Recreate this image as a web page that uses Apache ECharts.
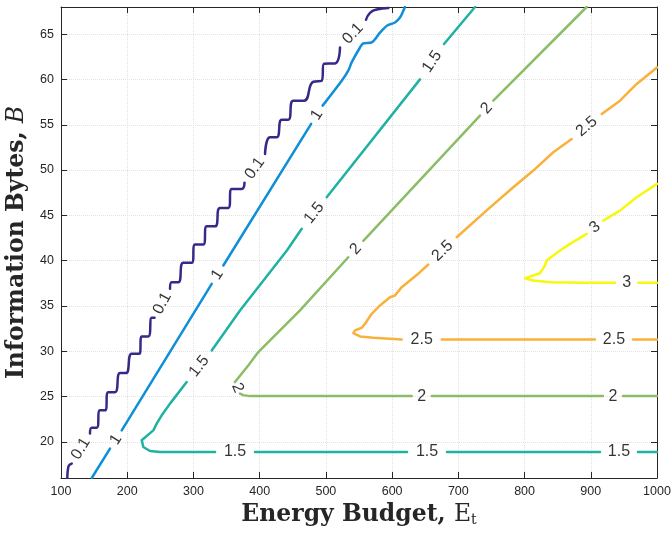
<!DOCTYPE html>
<html><head><meta charset="utf-8">
<script src="https://cdn.jsdelivr.net/npm/echarts@6/dist/echarts.min.js"></script>
<style>html,body{margin:0;padding:0;background:#fff}#c{width:671px;height:533px}</style>
</head><body><div id="c"></div>
<script>
// ---- data ----
const xTicks = [100, 200, 300, 400, 500, 600, 700, 800, 900, 1000];
const yTicks = [20, 25, 30, 35, 40, 45, 50, 55, 60, 65];
const levelText = ['0.1', '1', '1.5', '2', '2.5', '3'];

// each contour: list of segments (gaps are where the inline labels sit)
const contour_0_1 = [
  [[109.5,16.0],[111.0,17.21],[116.2,17.59]],
  [[143.8,20.90],[146.4,21.56],[153.9,21.56],[158.9,23.47],[166.4,23.47],[171.4,25.48],[181.5,25.48],[189.1,27.58],[198.2,27.58],[206.8,29.72],[218.2,29.72],[221.9,31.63],[231.8,31.63],[237.0,33.69],[241.2,33.69]],
  [[264.6,36.89],[267.2,37.62],[277.1,37.62],[284.7,39.76],[297.4,39.76],[302.4,41.78],[314.9,41.78],[320.0,43.79],[332.6,43.79],[340.1,45.82],[352.6,45.82],[357.8,47.92],[372.9,47.92],[377.1,48.61]],
  [[408.1,51.78],[415.7,53.61],[425.7,53.61],[433.3,55.56],[443.2,55.56],[450.8,57.66],[466.9,57.66],[481.0,59.75],[493.7,59.86],[497.1,61.74],[513.8,61.77],[521.3,63.53]],
  [[560.6,66.59],[566.6,67.36],[576.7,67.73],[594.2,67.9]]
];
const contour_1 = [
  [[146.4,16.0],[174.0,19.24]],
  [[191.7,21.26],[327.6,37.44]],
  [[345.1,39.46],[477.7,55.09]],
  [[495.0,57.11],[523.9,59.86],[533.8,60.97],[538.9,61.88],[551.5,63.53],[556.5,63.98],[569.2,64.09],[581.9,65.19],[592.1,65.93],[604.3,66.29],[611.9,66.84],[616.9,67.58],[619.4,68.0]]
];
const contour_1_5 = [
  [[1000,18.87],[971.3,18.87]],
  [[913.9,18.87],[682.9,18.87]],
  [[622.5,18.87],[393.0,18.87]],
  [[332.6,18.87],[249.5,18.87],[234.4,18.98],[224.3,19.42],[221.9,20.16],[239.4,21.26],[244.5,22.0],[252.1,22.92],[264.6,24.21],[272.2,24.93],[289.8,26.59]],
  [[327.6,30.08],[370.3,34.50],[440.8,41.09],[463.5,43.51]],
  [[501.2,46.99],[642.1,60.01]],
  [[678.4,63.91],[725.2,68.0]]
];
const contour_2 = [
  [[1000,25.04],[948.7,25.04]],
  [[918.4,25.04],[659.8,25.04]],
  [[629.6,25.04],[385.4,25.04],[375.0,25.15],[370.3,25.31]],
  [[362.7,26.59],[382.8,28.43],[397.9,29.90],[415.6,31.19],[460.9,34.50],[533.8,40.37]],
  [[556.5,42.19],[732.7,56.0]],
  [[752.8,57.66],[893.8,68.0]]
];
const contour_2_5 = [
  [[1000,31.30],[963.8,31.30]],
  [[906.3,31.30],[674.9,31.30]],
  [[614.5,31.30],[571.6,31.49],[551.5,31.63],[541.4,31.99],[544.0,32.29],[554.1,32.59],[559.1,33.03],[569.2,34.13],[581.7,35.05],[596.8,35.96],[604.3,36.15],[614.5,37.07],[627.0,37.80],[642.1,38.72],[654.6,39.57]],
  [[697.5,42.58],[742.8,45.55],[783.0,48.10],[813.2,49.94],[843.4,51.96],[871.2,53.43]],
  [[916.5,56.19],[944.1,57.66],[969.3,59.50],[1000,61.33]]
];
const contour_3 = [
  [[1000,37.55],[971.8,37.55]],
  [[936.6,37.55],[888.7,37.55],[838.4,37.62],[813.2,37.80],[800.7,38.06],[823.3,38.61],[830.8,39.46],[833.4,40.01],[843.4,40.56],[853.5,41.11],[868.6,41.85],[893.8,42.95]],
  [[918.9,44.42],[944.1,45.52],[969.3,46.99],[1000,48.47]]
];

const contours = [contour_0_1, contour_1, contour_1_5, contour_2, contour_2_5, contour_3];
const colors = ['#352a87', '#0f8fd8', '#1fb2a3', '#8cbd66', '#f9b13b', '#f7f70f'];
const smoothing = [0.5, 0.3, 0, 0, 0, 0];

// ---- chart ----
const chart = echarts.init(document.getElementById('c'), null, {renderer: 'canvas'});
const AX = '#262626';
const tickFont = {fontFamily: 'Liberation Sans', fontSize: 12.5, color: AX};

const lineSeries = contours.map((segs, k) => {
  const data = [];
  segs.forEach((s, i) => { if (i) data.push(['-', '-']); s.forEach(p => data.push(p)); });
  return {
    type: 'line', xAxisIndex: 0, yAxisIndex: 0, data: data, showSymbol: false, symbol: 'none',
    smooth: smoothing[k], connectNulls: false,
    lineStyle: {color: colors[k], width: 2.5, join: 'round', cap: 'round'},
    z: 3, silent: true, animation: false
  };
});

const option = {
  animation: false,
  backgroundColor: '#fff',
  grid: {left: 61, right: 14, top: 7, bottom: 55, containLabel: false, outerBoundsMode: 'none'},
  xAxis: [{
    type: 'value', min: 100, max: 1000, interval: 100, position: 'bottom',
    name: '{b|Energy Budget, }{r|E}{s|t}', nameLocation: 'middle', nameGap: 24,
    nameTextStyle: {color: AX, rich: {
      b: {fontFamily: 'DejaVu Serif', fontWeight: 'bold', fontSize: 23.5, color: AX},
      r: {fontFamily: 'DejaVu Serif', fontSize: 23.5, color: AX},
      s: {fontFamily: 'DejaVu Serif', fontSize: 14, color: AX, padding: [10, 0, 0, 0]}
    }},
    axisLine: {onZero: false, lineStyle: {color: AX, width: 1}},
    axisTick: {inside: true, length: 6, lineStyle: {color: AX}},
    axisLabel: Object.assign({margin: 7, formatter: v => String(v)}, tickFont),
    splitLine: {show: true, lineStyle: {color: '#e2e2e2', type: 'dotted', width: 1}}
  }, {
    type: 'value', min: 100, max: 1000, interval: 100, position: 'top',
    axisLine: {onZero: false, lineStyle: {color: AX, width: 1}},
    axisTick: {inside: true, length: 6, lineStyle: {color: AX}},
    axisLabel: {show: false}, splitLine: {show: false}
  }],
  yAxis: [{
    type: 'value', min: 16, max: 68, position: 'left',
    name: '{b|Information Bytes, }{i|B}', nameLocation: 'middle', nameGap: 31, nameRotate: 90,
    nameTextStyle: {color: AX, rich: {
      b: {fontFamily: 'DejaVu Serif', fontWeight: 'bold', fontSize: 23.5, color: AX},
      i: {fontFamily: 'DejaVu Serif', fontStyle: 'italic', fontSize: 23.5, color: AX}
    }},
    axisLine: {onZero: false, lineStyle: {color: AX, width: 1}},
    axisTick: {inside: true, length: 6, lineStyle: {color: AX}, customValues: yTicks},
    axisLabel: Object.assign({margin: 7, customValues: yTicks}, tickFont),
    splitLine: {show: true, lineStyle: {color: '#e2e2e2', type: 'dotted', width: 1}}
  }, {
    type: 'value', min: 16, max: 68, position: 'right',
    axisLine: {onZero: false, lineStyle: {color: AX, width: 1}},
    axisTick: {inside: true, length: 6, lineStyle: {color: AX}, customValues: yTicks},
    axisLabel: {show: false, customValues: yTicks}, splitLine: {show: false}
  }],
  series: lineSeries
};
chart.setOption(option);

// inline contour labels placed in the gaps, rotated along the contour
const labelData = [];
contours.forEach((segs, k) => {
  for (let i = 0; i < segs.length - 1; i++) {
    const a = segs[i][segs[i].length - 1], b = segs[i + 1][0];
    const pa = chart.convertToPixel({xAxisIndex: 0, yAxisIndex: 0}, a);
    const pb = chart.convertToPixel({xAxisIndex: 0, yAxisIndex: 0}, b);
    let ang = Math.atan2(-(pb[1] - pa[1]), pb[0] - pa[0]) * 180 / Math.PI;
    if (ang > 90) ang -= 180;
    if (ang <= -90) ang += 180;
    labelData.push({value: [(a[0] + b[0]) / 2, (a[1] + b[1]) / 2], label: {formatter: levelText[k], rotate: ang}});
  }
});
chart.setOption({series: lineSeries.concat([{
  type: 'scatter', xAxisIndex: 0, yAxisIndex: 0, data: labelData, symbolSize: 1,
  itemStyle: {color: 'rgba(0,0,0,0)'}, silent: true, z: 5,
  label: {show: true, position: 'inside', fontFamily: 'Liberation Sans', fontSize: 16, color: '#000'}
}])});
</script>
</body></html>
